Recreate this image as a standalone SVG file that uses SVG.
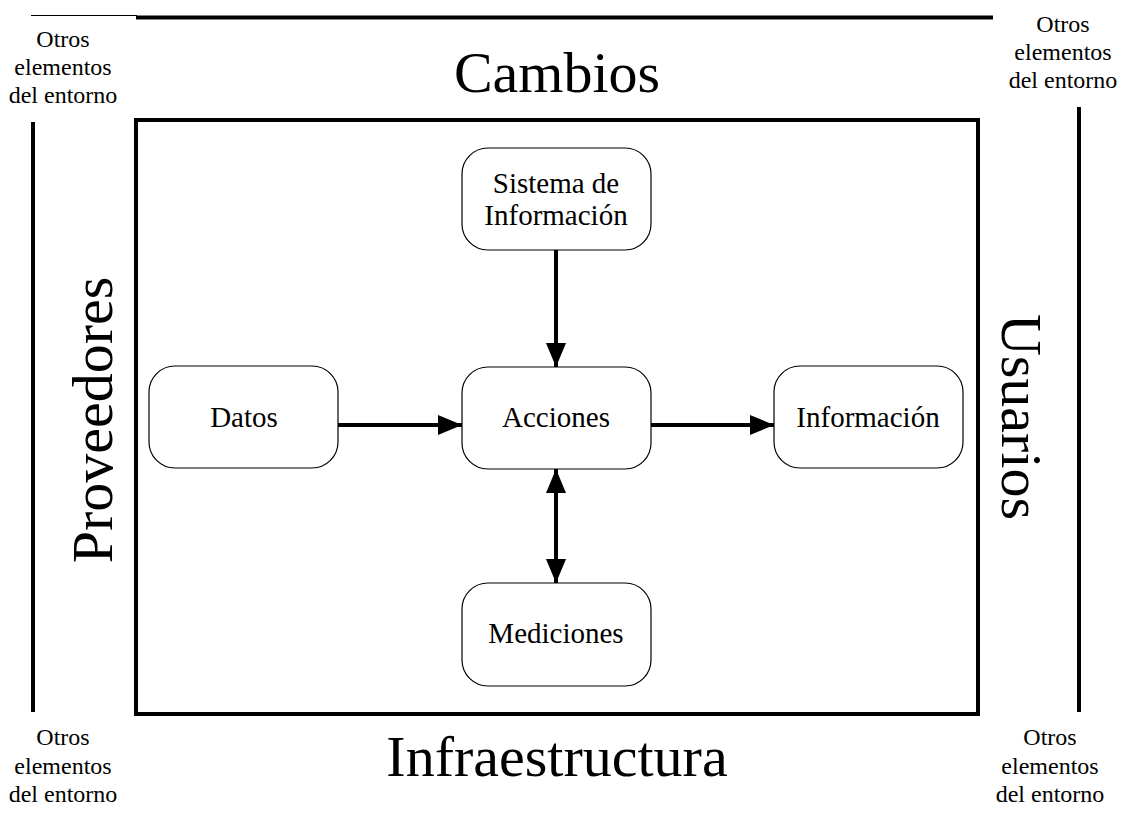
<svg xmlns="http://www.w3.org/2000/svg" width="1121" height="814" viewBox="0 0 1121 814">
<style>
text{font-family:"Liberation Serif","Times New Roman",serif;fill:#000;text-anchor:middle}
.big{font-size:58px}
.small{font-size:24px}
.nt{font-size:29px}
.node rect{fill:#fff;stroke:#000;stroke-width:1.2}
.frame{fill:none;stroke:#000;stroke-width:4}
.conn line{stroke:#000;stroke-width:4}
</style>
<defs>
<marker id="ah" markerUnits="userSpaceOnUse" markerWidth="24" markerHeight="20" viewBox="0 0 24 20" refX="24" refY="10" orient="auto-start-reverse">
<path d="M0,0 L24,10 L0,20 Z" fill="#000"/>
</marker>
</defs>
<rect width="1121" height="814" fill="#fff"/>
<g id="frame">
<line x1="31" y1="15.5" x2="137" y2="15.5" stroke="#000" stroke-width="1"/>
<line x1="136" y1="17.5" x2="993" y2="17.5" class="frame"/>
<rect x="136" y="120" width="842" height="594" class="frame"/>
<line x1="33" y1="122" x2="33" y2="712" class="frame"/>
<line x1="1079" y1="107" x2="1079" y2="712" class="frame"/>
</g>
<g id="labels">
<text class="big" x="557" y="92">Cambios</text>
<text class="big" x="557" y="776">Infraestructura</text>
<text class="big" transform="translate(112,420) rotate(-90)">Proveedores</text>
<text class="big" transform="translate(1002,417) rotate(90)">Usuarios</text>
<text class="small" x="63" y="47">Otros</text>
<text class="small" x="63" y="75">elementos</text>
<text class="small" x="63" y="103">del entorno</text>
<text class="small" x="1063" y="32">Otros</text>
<text class="small" x="1063" y="60">elementos</text>
<text class="small" x="1063" y="88">del entorno</text>
<text class="small" x="63" y="745">Otros</text>
<text class="small" x="63" y="774">elementos</text>
<text class="small" x="63" y="802">del entorno</text>
<text class="small" x="1050" y="745">Otros</text>
<text class="small" x="1050" y="774">elementos</text>
<text class="small" x="1050" y="802">del entorno</text>
</g>
<g id="connectors" class="conn">
<line x1="556" y1="250" x2="556" y2="367" marker-end="url(#ah)"/>
<line x1="338" y1="425" x2="462" y2="425" marker-end="url(#ah)"/>
<line x1="643" y1="425" x2="774" y2="425" marker-end="url(#ah)"/>
<line x1="556" y1="469" x2="556" y2="583" marker-start="url(#ah)" marker-end="url(#ah)"/>
</g>
<g id="node-sistema" class="node">
<rect x="462" y="148" width="189" height="102" rx="26"/>
<text class="nt" x="556" y="193">Sistema de</text>
<text class="nt" x="556" y="225">Información</text>
</g>
<g id="node-datos" class="node">
<rect x="149" y="366" width="189" height="102" rx="26"/>
<text class="nt" x="244" y="427">Datos</text>
</g>
<g id="node-acciones" class="node">
<rect x="462" y="367" width="189" height="102" rx="26"/>
<text class="nt" x="556" y="427">Acciones</text>
</g>
<g id="node-informacion" class="node">
<rect x="774" y="366" width="189" height="102" rx="26"/>
<text class="nt" x="868" y="427">Información</text>
</g>
<g id="node-mediciones" class="node">
<rect x="462" y="583" width="189" height="103" rx="26"/>
<text class="nt" x="556" y="643">Mediciones</text>
</g>
</svg>
